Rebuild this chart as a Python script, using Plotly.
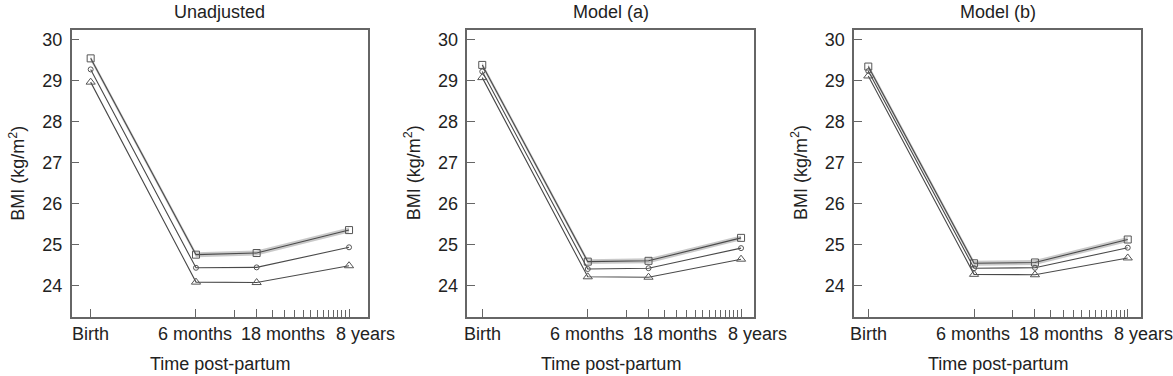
import math
import plotly.graph_objects as go

# ---- data ----
panel_titles = ["Unadjusted", "Model (a)", "Model (b)"]
tick_labels = ["Birth", "6 months", "18 months", "8 years"]
time_months = [0.89, 6, 18, 96]          # birth drawn just left of the log axis origin
minor_tick_months = [12, 24, 30, 36, 42, 48, 54, 60, 66, 72, 78, 84, 90]
y_ticks = [24, 25, 26, 27, 28, 29, 30]

unadj_square = [29.55, 24.76, 24.80, 25.36]
unadj_circle = [29.28, 24.44, 24.45, 24.94]
unadj_triangle = [28.97, 24.09, 24.08, 24.49]

modela_square = [29.39, 24.59, 24.61, 25.17]
modela_circle = [29.23, 24.41, 24.43, 24.92]
modela_triangle = [29.08, 24.22, 24.21, 24.65]

modelb_square = [29.35, 24.55, 24.57, 25.13]
modelb_circle = [29.24, 24.43, 24.44, 24.93]
modelb_triangle = [29.12, 24.28, 24.27, 24.68]

band_halfwidth = 0.06

panels = [
    (unadj_square, unadj_circle, unadj_triangle),
    (modela_square, modela_circle, modela_triangle),
    (modelb_square, modelb_circle, modelb_triangle),
]

# layout / style
x_domains = [(0.0611, 0.3140), (0.3984, 0.6428), (0.7281, 0.9727)]
x_ranges = [(-0.200, 2.134), (-0.168, 2.084), (-0.162, 2.086)]
y_domain = (0.157, 0.920)
y_range = (23.24, 30.24)
label_xshift = [0, -1, 26, 16]

line_col = "#4a4a4a"
frame_col = "#666666"
text_col = "#222222"
font_family = "Liberation Sans, Arial, sans-serif"
fs = 18

fig = go.Figure()

for i, (sq, ci, tr) in enumerate(panels):
    xa = "x" if i == 0 else f"x{i+1}"
    ya = "y" if i == 0 else f"y{i+1}"
    upper = [v + band_halfwidth for v in sq]
    lower = [v - band_halfwidth for v in sq]
    fig.add_trace(go.Scatter(
        x=time_months + time_months[::-1], y=upper + lower[::-1],
        fill="toself", fillcolor="rgba(165,165,165,0.6)", line=dict(width=0),
        mode="lines", hoverinfo="skip", showlegend=False, xaxis=xa, yaxis=ya))
    for vals, sym, size in [(sq, "square-open", 7), (ci, "circle-open", 5), (tr, "triangle-up-open", 8)]:
        fig.add_trace(go.Scatter(
            x=time_months, y=vals, mode="lines+markers",
            line=dict(color=line_col, width=1.1),
            marker=dict(symbol=sym, size=size, color="#555555", line=dict(width=1, color="#555555")),
            showlegend=False, xaxis=xa, yaxis=ya))

    suffix = "" if i == 0 else str(i + 1)
    fig.layout["xaxis" + suffix] = dict(
        type="log", domain=x_domains[i], range=list(x_ranges[i]), anchor=ya,
        tickmode="array", tickvals=time_months, showticklabels=False,
        ticks="inside", ticklen=8, tickcolor=frame_col, tickwidth=1,
        minor=dict(tickmode="array", tickvals=minor_tick_months, ticks="inside",
                   ticklen=7, tickcolor=frame_col, tickwidth=1, showgrid=False),
        showline=True, mirror=True, linecolor=frame_col, linewidth=1.5,
        showgrid=False, zeroline=False,
    )
    fig.layout["yaxis" + suffix] = dict(
        domain=y_domain, range=list(y_range), anchor=xa,
        tickmode="array", tickvals=y_ticks,
        ticks="inside", ticklen=8, tickcolor=frame_col, tickwidth=1,
        showline=True, mirror=True, linecolor=frame_col, linewidth=1.5,
        showgrid=False, zeroline=False,
        tickfont=dict(size=fs, color=text_col, family=font_family),
        ticklabelstandoff=4,
    )
    for t, lab, dx in zip(time_months, tick_labels, label_xshift):
        fig.add_annotation(text=lab, x=math.log10(t), xref=xa, y=0.112, yref="paper",
                           xanchor="center", yanchor="middle", xshift=dx, showarrow=False,
                           font=dict(size=fs, color=text_col, family=font_family))
    xc = (x_domains[i][0] + x_domains[i][1]) / 2
    fig.add_annotation(text=panel_titles[i], x=xc, y=0.968, xref="paper", yref="paper",
                       xanchor="center", yanchor="middle", showarrow=False,
                       font=dict(size=fs, color=text_col, family=font_family))
    fig.add_annotation(text="Time post-partum", x=xc, y=0.031, xref="paper", yref="paper",
                       xanchor="center", yanchor="middle", showarrow=False,
                       font=dict(size=fs, color=text_col, family=font_family))
    fig.add_annotation(text="BMI (kg/m<sup>2</sup>)", x=x_domains[i][0] - 0.046, y=0.54,
                       xref="paper", yref="paper", xanchor="center", yanchor="middle",
                       textangle=-90, showarrow=False,
                       font=dict(size=fs, color=text_col, family=font_family))

fig.update_layout(
    width=1173, height=376, margin=dict(l=0, r=0, t=0, b=0),
    paper_bgcolor="white", plot_bgcolor="white",
)

fig.write_html("out.html", config=dict(displayModeBar=False),
               post_script="document.body.style.margin='0';document.body.style.overflow='hidden';")
